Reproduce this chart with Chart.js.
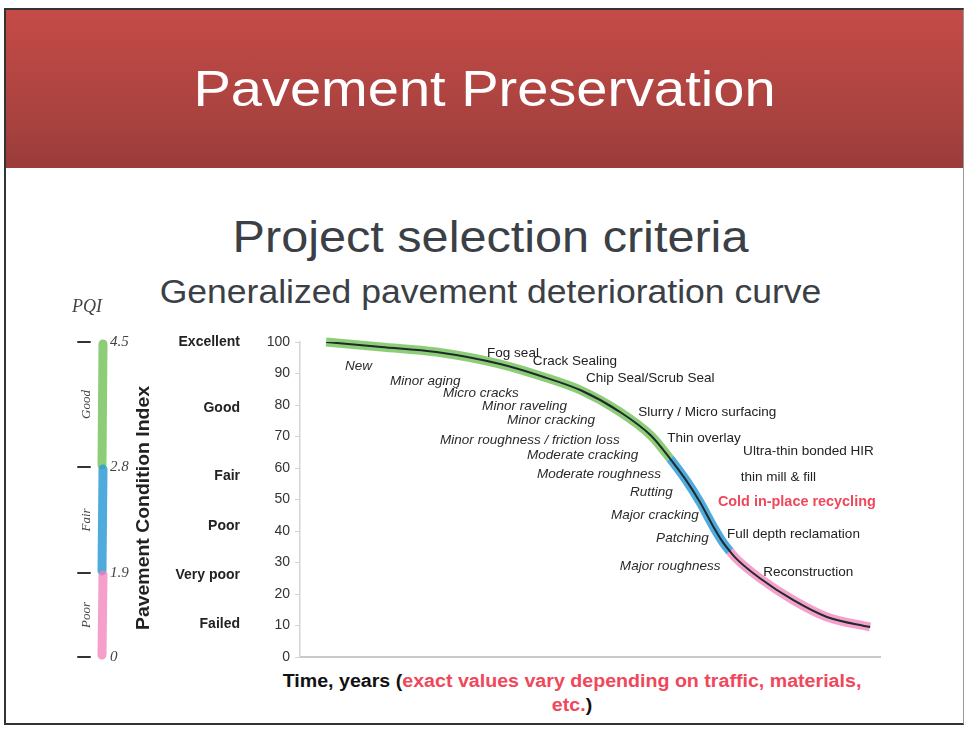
<!DOCTYPE html>
<html>
<head>
<meta charset="utf-8">
<script src="https://cdn.jsdelivr.net/npm/chart.js@4"></script>
<style>
  body{margin:0;background:#fff;}
  #slide{position:relative;width:965px;height:734px;overflow:hidden;font-family:"Liberation Sans",Arial,sans-serif;}
  #frame{position:absolute;left:4px;top:8px;width:957px;height:713px;border-top:2px solid #333;border-left:2px solid #333;border-bottom:2px solid #333;border-right:1px solid #999;}
  #band{position:absolute;left:6px;top:10px;width:957px;height:158px;background:linear-gradient(#c54b47,#a8423f 70%,#9a3c3a);}
  #band h1{margin:0;position:absolute;left:0;right:0;top:49px;text-align:center;color:#fff;font-weight:normal;font-size:50px;line-height:60px;transform:scaleX(1.12);}
  .sub{position:absolute;left:16px;right:0;text-align:center;color:#3b4046;}
  #xtitle{position:absolute;left:267px;width:610px;top:669px;text-align:center;font-weight:bold;font-size:18px;line-height:24px;color:#111;transform:scaleX(1.09);}
  #xtitle span{color:#f0475b;}
  canvas{position:absolute;left:0;top:0;}
</style>
</head>
<body>
<div id="slide">
  <div id="frame"></div>
  <div id="band"><h1>Pavement Preservation</h1></div>
  <div class="sub" style="top:212px;font-size:45px;line-height:50px;transform:scaleX(1.08);">Project selection criteria</div>
  <div class="sub" style="top:271px;font-size:34px;line-height:40px;transform:scaleX(1.045);">Generalized pavement deterioration curve</div>
  <div id="xtitle">Time, years (<span>exact values vary depending on traffic, materials,<br>etc.</span>)</div>
  <canvas id="curveChart" width="965" height="734"></canvas>
</div>
<script>
// data
var years = [0.9, 2.8, 4.7, 6.9, 8.3, 9.7, 11.0, 12.1, 12.76, 13.3, 13.79, 14.24, 14.59, 14.83, 15.07, 15.86, 17.0, 18.17, 19.66];
var pci   = [100, 98.4, 96.8, 93.0, 89.2, 84.6, 78.0, 70.3, 63.0, 56.3, 49.2, 41.6, 36.3, 33.5, 31.0, 25.0, 18.1, 12.7, 9.5];
var yTicks = [0, 10, 20, 30, 40, 50, 60, 70, 80, 90, 100];
var conditionNames = ['Excellent', 'Good', 'Fair', 'Poor', 'Very poor', 'Failed'];
var conditionAt    = [100, 79, 57.5, 41.5, 26, 10.5];
var pqiValues = ['4.5', '2.8', '1.9', '0'];
var pqiAt     = [100, 60.3, 26.7, 0];
var pqiNames  = ['Good', 'Fair', 'Poor'];
// highlighter colour per part of the curve (index where each part ends)
var partEnds   = [8, 13, 18];
var partColors = ['rgba(112,192,86,0.8)', 'rgba(48,156,214,0.85)', 'rgba(242,128,186,0.75)'];

// notes along the curve: [text, year, pci, kind]
var notes = [
  ['New', 1.55, 92.1, 'i'],
  ['Minor aging', 3.1, 87.6, 'i'],
  ['Micro cracks', 4.93, 83.8, 'i'],
  ['Minor raveling', 6.28, 79.7, 'i'],
  ['Minor cracking', 7.14, 75.2, 'i'],
  ['Minor roughness / friction loss', 4.83, 68.9, 'i'],
  ['Moderate cracking', 7.83, 64.1, 'i'],
  ['Moderate roughness', 8.17, 58.1, 'i'],
  ['Rutting', 11.38, 52.1, 'i'],
  ['Major cracking', 10.72, 45.1, 'i'],
  ['Patching', 12.28, 37.5, 'i'],
  ['Major roughness', 11.03, 28.9, 'i'],
  ['Fog seal', 6.45, 96.5, 'n'],
  ['Crack Sealing', 8.03, 93.7, 'n'],
  ['Chip Seal/Scrub Seal', 9.86, 88.3, 'n'],
  ['Slurry / Micro surfacing', 11.66, 77.5, 'n'],
  ['Thin overlay', 12.66, 69.5, 'n'],
  ['Ultra-thin bonded HIR', 15.28, 65.4, 'n'],
  ['thin mill & fill', 15.2, 57.1, 'n'],
  ['Cold in-place recycling', 14.41, 49.2, 'r'],
  ['Full depth reclamation', 14.72, 39.0, 'n'],
  ['Reconstruction', 15.97, 26.7, 'n']
];

var points = years.map((x, i) => ({x: x, y: pci[i]}));

function partColor(idx) {
    for (let i = 0; i < partEnds.length; i++) {
        if (idx < partEnds[i]) return partColors[i];
    }
    return partColors[partColors.length - 1];
}

function stretchText(ctx, text, x, y, sx) {
    ctx.save();
    ctx.translate(x, y);
    ctx.scale(sx, 1);
    ctx.fillText(text, 0, 0);
    ctx.restore();
}

//=========== drawing of notes and PQI scale ===========
var notesPlugin = {
    id: 'notes',
    afterDatasetsDraw(chart) {
        var ctx = chart.ctx, xs = chart.scales.x, ys = chart.scales.y;
        ctx.save();
        ctx.textBaseline = 'middle';
        ctx.textAlign = 'left';
        notes.forEach(n => {
            if (n[3] === 'i') { ctx.font = 'italic 13px "Liberation Sans", Arial'; ctx.fillStyle = '#2b2b2b'; }
            else if (n[3] === 'r') { ctx.font = 'bold 14px "Liberation Sans", Arial'; ctx.fillStyle = '#f0475b'; }
            else { ctx.font = '13px "Liberation Sans", Arial'; ctx.fillStyle = '#222'; }
            stretchText(ctx, n[0], xs.getPixelForValue(n[1]), ys.getPixelForValue(n[2]), n[3] === 'r' ? 1.03 : 1.04);
        });
        ctx.restore();
    },
    afterDraw(chart) {
        var ctx = chart.ctx, ys = chart.scales.y;
        // axis title, a bit stretched like the slide
        ctx.save();
        ctx.fillStyle = '#222';
        ctx.font = 'bold 18px "Liberation Sans", Arial';
        ctx.textAlign = 'center';
        ctx.textBaseline = 'middle';
        ctx.translate(144, 508);
        ctx.rotate(-Math.PI / 2);
        ctx.scale(1.08, 1);
        ctx.fillText('Pavement Condition Index', 0, 0);
        ctx.restore();

        // hand drawn PQI scale on the left
        var barX = 103;
        ctx.save();
        ctx.lineCap = 'round';
        for (let i = 0; i < 3; i++) {
            ctx.strokeStyle = partColors[i];
            ctx.lineWidth = 9;
            ctx.beginPath();
            ctx.moveTo(barX, ys.getPixelForValue(pqiAt[i]) + 2);
            ctx.lineTo(barX - 1, ys.getPixelForValue(pqiAt[i + 1]) - 2);
            ctx.stroke();
        }
        ctx.strokeStyle = '#333';
        ctx.lineWidth = 2;
        ctx.fillStyle = '#444';
        ctx.font = 'italic 15px "Liberation Serif", serif';
        ctx.textBaseline = 'middle';
        pqiAt.forEach((v, i) => {
            var py = ys.getPixelForValue(v);
            ctx.beginPath();
            ctx.moveTo(78, py);
            ctx.lineTo(90, py);
            ctx.stroke();
            ctx.fillText(pqiValues[i], 110, py);
        });
        ctx.font = 'italic 18px "Liberation Serif", serif';
        ctx.fillText('PQI', 72, 307);
        ctx.font = 'italic 13px "Liberation Serif", serif';
        ctx.textAlign = 'center';
        pqiNames.forEach((name, i) => {
            var py = (ys.getPixelForValue(pqiAt[i]) + ys.getPixelForValue(pqiAt[i + 1])) / 2;
            ctx.save();
            ctx.translate(87, py);
            ctx.rotate(-Math.PI / 2);
            ctx.fillText(name, 0, 0);
            ctx.restore();
        });
        ctx.restore();
    }
};

var ctx = document.getElementById('curveChart').getContext('2d');
var chart = new Chart(ctx, {
    type: 'line',
    data: {
        datasets: [{
            label: 'PCI',
            data: points,
            borderColor: '#1e2a2c',
            borderWidth: 2,
            pointRadius: 0,
            cubicInterpolationMode: 'monotone',
            order: 0
        }, {
            label: 'highlight',
            data: points,
            borderWidth: 9,
            borderColor: partColors[0],
            segment: {
                borderColor: c => partColor(c.p0DataIndex)
            },
            pointRadius: 0,
            cubicInterpolationMode: 'monotone',
            clip: false,
            order: 1
        }]
    },
    options: {
        responsive: false,
        animation: false,
        devicePixelRatio: 1,
        layout: {padding: {top: 342, bottom: 77, left: 130, right: 85}},
        plugins: {legend: {display: false}, tooltip: {enabled: false}},
        scales: {
            x: {
                type: 'linear', min: 0, max: 20,
                ticks: {display: false},
                grid: {display: false, drawTicks: false},
                border: {color: '#c9c9c9', width: 2}
            },
            y: {
                position: 'left', min: 0, max: 100, weight: 0,
                afterBuildTicks: axis => { axis.ticks = yTicks.map(v => ({value: v})); },
                afterFit: axis => { axis.width = 40; },
                ticks: {color: '#333', font: {family: '"Liberation Sans", Arial', size: 14}, padding: 5, autoSkip: false},
                grid: {display: true, drawOnChartArea: false, drawTicks: true, tickLength: 5, color: '#d4d4d4'},
                border: {color: '#d4d4d4', width: 1.5}
            },
            y2: {
                position: 'left', min: 0, max: 100, weight: 1,
                afterBuildTicks: axis => { axis.ticks = conditionAt.map(v => ({value: v})); },
                afterFit: axis => { axis.width = 130; },
                ticks: {
                    color: '#222', font: {family: '"Liberation Sans", Arial', size: 14, weight: 'bold'},
                    padding: 20, autoSkip: false,
                    callback: (v, i) => conditionNames[i]
                },
                grid: {display: false, drawTicks: false},
                border: {display: false}
            }
        }
    },
    plugins: [notesPlugin]
});
</script>
</body>
</html>
